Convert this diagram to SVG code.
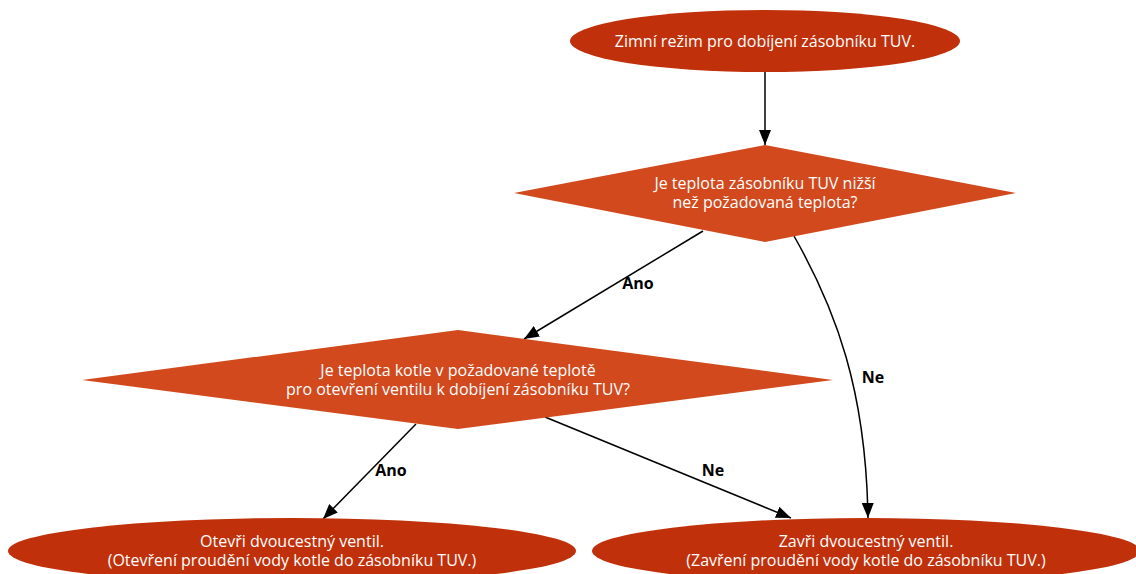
<svg xmlns="http://www.w3.org/2000/svg" width="1136" height="574" viewBox="0 0 1136 574">
  <style>
    .term { fill: #c0300a; }
    .decision { fill: #d1491d; }
    .node-text { font-family: "Open Sans", "Liberation Sans", sans-serif; font-size: 16px; fill: #ffffff; text-anchor: middle; }
    .edge { fill: none; stroke: #000000; stroke-width: 1.5; marker-end: url(#arrow); }
    .edge-label { font-family: "Open Sans", "Liberation Sans", sans-serif; font-size: 16px; font-weight: bold; fill: #000000; text-anchor: middle; }
  </style>
  <defs>
    <marker id="arrow" markerUnits="userSpaceOnUse" markerWidth="16" markerHeight="12" refX="15" refY="6" orient="auto">
      <path d="M0,0 L15,6 L0,12 z" fill="#000000"/>
    </marker>
  </defs>
  <rect width="1136" height="574" fill="#ffffff"/>

  <g id="connectors">
    <path class="edge" d="M765,72 L765,145"/>
    <path class="edge" d="M703,231 L524,339"/>
    <path class="edge" d="M794,236 C836,310 866,390 868,518"/>
    <path class="edge" d="M416,424 L323,519"/>
    <path class="edge" d="M545,417 L791,518"/>
    <text class="edge-label" x="638" y="289">Ano</text>
    <text class="edge-label" x="873" y="383">Ne</text>
    <text class="edge-label" x="391" y="476">Ano</text>
    <text class="edge-label" x="713" y="476">Ne</text>
  </g>

  <g id="start">
    <ellipse class="term" cx="765" cy="41" rx="195" ry="31"/>
    <text class="node-text" x="765" y="47">Zimní režim pro dobíjení zásobníku TUV.</text>
  </g>

  <g id="check-tank">
    <polygon class="decision" points="765,145 1016,193 765,242 514,193"/>
    <text class="node-text" x="765" y="189">Je teplota zásobníku TUV nižší</text>
    <text class="node-text" x="765" y="208">než požadovaná teplota?</text>
  </g>

  <g id="check-boiler">
    <polygon class="decision" points="458,330 833,380 458,429 82,380"/>
    <text class="node-text" x="458" y="376">Je teplota kotle v požadované teplotě</text>
    <text class="node-text" x="458" y="395">pro otevření ventilu k dobíjení zásobníku TUV?</text>
  </g>

  <g id="open-valve">
    <ellipse class="term" cx="292" cy="551" rx="284" ry="33"/>
    <text class="node-text" x="292" y="547">Otevři dvoucestný ventil.</text>
    <text class="node-text" x="292" y="566">(Otevření proudění vody kotle do zásobníku TUV.)</text>
  </g>

  <g id="close-valve">
    <ellipse class="term" cx="866" cy="551" rx="274" ry="33"/>
    <text class="node-text" x="866" y="547">Zavři dvoucestný ventil.</text>
    <text class="node-text" x="866" y="566">(Zavření proudění vody kotle do zásobníku TUV.)</text>
  </g>
</svg>
